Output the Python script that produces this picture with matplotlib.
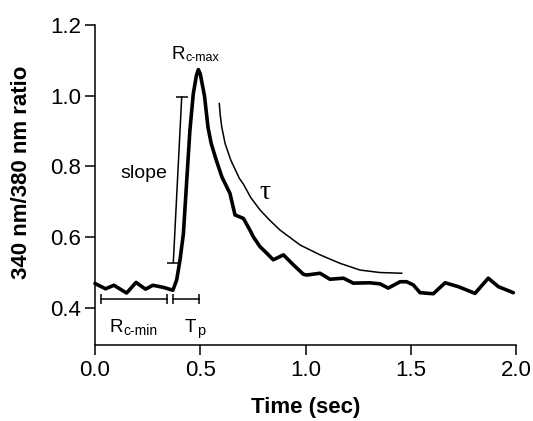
import matplotlib
matplotlib.use("Agg")
import matplotlib.pyplot as plt

# ---------------------------------------------------------
# DATA
# ---------------------------------------------------------

# ratio trace
time_s = [0.0, 0.05, 0.09, 0.15, 0.195, 0.24, 0.275, 0.325, 0.37,
          0.388, 0.404, 0.42, 0.436, 0.451, 0.467, 0.482, 0.491, 0.50,
          0.52, 0.537, 0.552, 0.576, 0.603, 0.641, 0.665, 0.705, 0.736,
          0.752, 0.784, 0.8, 0.847, 0.895, 0.942, 0.99, 1.006, 1.069,
          1.116, 1.18, 1.227, 1.306, 1.354, 1.393, 1.449, 1.48, 1.512,
          1.544, 1.607, 1.663, 1.726, 1.805, 1.868, 1.916, 1.987]
ratio = [0.469, 0.454, 0.464, 0.442, 0.472, 0.453, 0.464, 0.458, 0.450,
         0.479, 0.536, 0.610, 0.762, 0.903, 1.006, 1.058, 1.074, 1.062,
         1.000, 0.910, 0.865, 0.818, 0.770, 0.724, 0.663, 0.653, 0.620,
         0.601, 0.573, 0.564, 0.536, 0.550, 0.522, 0.495, 0.493, 0.498,
         0.481, 0.484, 0.470, 0.471, 0.468, 0.456, 0.474, 0.474, 0.465,
         0.443, 0.440, 0.471, 0.460, 0.441, 0.484, 0.460, 0.443]

# tau decay curve (thin)
tau_t = [0.5905, 0.595, 0.602, 0.618, 0.645, 0.686, 0.705, 0.740, 0.784,
         0.830, 0.879, 0.974, 1.069, 1.164, 1.259, 1.354, 1.457]
tau_v = [0.978, 0.945, 0.912, 0.865, 0.818, 0.766, 0.750, 0.712, 0.677,
         0.648, 0.620, 0.578, 0.550, 0.526, 0.507, 0.500, 0.498]

# slope marker
slope_t = [0.372, 0.412]
slope_v = [0.528, 0.997]

# brackets under the baseline
rmin_t = [0.029, 0.340]
tp_t = [0.369, 0.496]
bracket_v = 0.424

xticks = [0.0, 0.5, 1.0, 1.5, 2.0]
yticks = [0.4, 0.6, 0.8, 1.0, 1.2]

# ---------------------------------------------------------
# PLOT
# ---------------------------------------------------------

plt.rcParams['font.family'] = ['Liberation Sans', 'DejaVu Sans']

fig = plt.figure(figsize=(5.33, 4.21), dpi=100)
ax = fig.add_axes([0.1782, 0.1805, 0.790, 0.760])

ax.plot(time_s, ratio, color='black', lw=2.6, solid_joinstyle='round',
        solid_capstyle='round', clip_on=False)
ax.plot(tau_t, tau_v, color='black', lw=1.1, clip_on=False)
ax.plot(slope_t, slope_v, color='black', lw=1.1, marker='_', ms=8, mew=1.1)
ax.plot(rmin_t, [bracket_v] * 2, color='black', lw=1.1, marker='|', ms=7, mew=1.1)
ax.plot(tp_t, [bracket_v] * 2, color='black', lw=1.1, marker='|', ms=7, mew=1.1)

# labels on the trace
ax.text(0.364, 1.105, "R", fontsize=13.5, ha='left', va='baseline')
ax.annotate("c-max", xy=(0.364, 1.105), xytext=(9.8, -1.5), textcoords='offset points',
            fontsize=9, ha='left', va='baseline')
ax.text(0.071, 0.333, "R", fontsize=13.5, ha='left', va='baseline')
ax.annotate("c-min", xy=(0.071, 0.333), xytext=(10, -2.4), textcoords='offset points',
            fontsize=10, ha='left', va='baseline')
ax.text(0.428, 0.333, "T", fontsize=13.5, ha='left', va='baseline')
ax.annotate("p", xy=(0.428, 0.333), xytext=(8.3, -2.2), textcoords='offset points',
            fontsize=10.5, ha='left', va='baseline')
ax.text(0.233, 0.78, "slope", fontsize=14, ha='center', va='center')
ax.text(0.808, 0.725, "\u03c4", fontsize=20, ha='center', va='center',
        family=['Liberation Serif', 'DejaVu Serif'])

ax.set_xlim(0, 2.0)
ax.set_ylim(0.295, 1.2)
ax.set_xticks(xticks)
ax.set_xticklabels([f"{v:.1f}" for v in xticks])
ax.set_yticks(yticks)
ax.set_yticklabels([f"{v:.1f}" for v in yticks])

for side in ['top', 'right']:
    ax.spines[side].set_visible(False)
for side in ['left', 'bottom']:
    ax.spines[side].set_linewidth(1.1)

ax.tick_params(axis='both', direction='out', length=7, width=1.1, labelsize=16)
ax.tick_params(axis='x', pad=4)
ax.tick_params(axis='y', pad=3)

fig.text(306 / 533, 1 - 407 / 421, "Time (sec)", fontsize=16, fontweight='bold',
         ha='center', va='center')
fig.text(22 / 533, 1 - 172 / 421, "340 nm/380 nm ratio", fontsize=16, fontweight='bold',
         ha='center', va='center', rotation=90)

fig.savefig("out.png", dpi=100)
